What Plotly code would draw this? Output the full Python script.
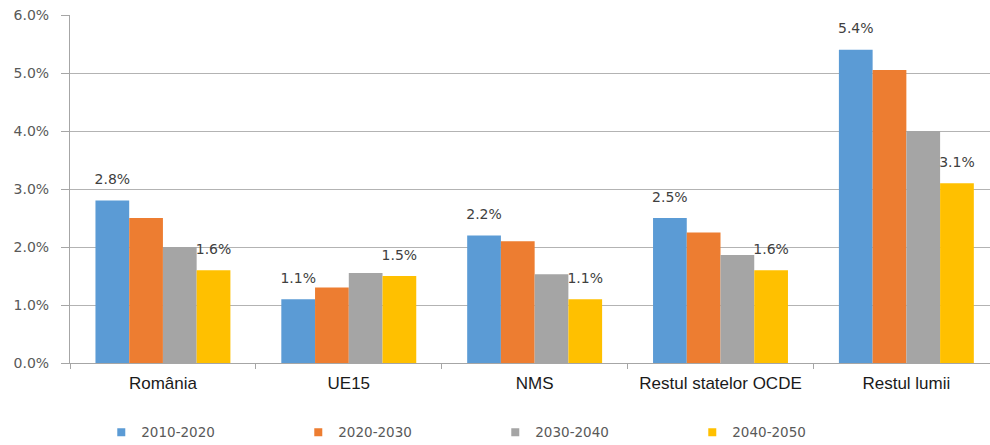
import plotly.graph_objects as go

# Average annual growth rates (%) by region and decade
regions = ["România", "UE15", "NMS", "Restul statelor OCDE", "Restul lumii"]
periods = ["2010-2020", "2020-2030", "2030-2040", "2040-2050"]
g_2010_2020 = [2.8, 1.1, 2.2, 2.5, 5.4]
g_2020_2030 = [2.5, 1.3, 2.1, 2.25, 5.05]
g_2030_2040 = [2.0, 1.55, 1.53, 1.86, 4.0]
g_2040_2050 = [1.6, 1.5, 1.1, 1.6, 3.1]
colors = ["#5B9BD5", "#ED7D31", "#A5A5A5", "#FFC000"]

series = [g_2010_2020, g_2020_2030, g_2030_2040, g_2040_2050]
# Only the first and the last decade carry value labels
labelled = [True, False, False, True]

GAP = 0.274

fig = go.Figure()
for name, vals, col in zip(periods, series, colors):
    fig.add_trace(go.Bar(
        x=regions, y=vals, name=name, marker=dict(color=col, line=dict(width=0)),
        offsetgroup=name, showlegend=False,
    ))

# Value labels: invisible grouped points placed on top of each bar
for name, vals, lab in zip(periods, series, labelled):
    fig.add_trace(go.Scatter(
        x=regions, y=vals, mode="markers+text" if lab else "markers",
        text=[f"{v:.1f}%" for v in vals] if lab else None,
        textposition="top center",
        textfont=dict(family="DejaVu Sans", size=14, color="#404040"),
        marker=dict(size=19, opacity=0),
        offsetgroup=name, showlegend=False, hoverinfo="skip", cliponaxis=False,
    ))

# small square legend keys
for name, col in zip(periods, colors):
    fig.add_trace(go.Scatter(
        x=[None], y=[None], mode="markers", name=name,
        marker=dict(symbol="square", size=8, color=col),
    ))

fig.update_layout(
    width=990, height=445,
    margin=dict(l=70, r=0, t=15, b=82, autoexpand=False),
    paper_bgcolor="white", plot_bgcolor="white",
    barmode="group", bargap=GAP, bargroupgap=0,
    scattermode="group", scattergap=GAP,
    showlegend=True,
    legend=dict(
        orientation="h", x=0.034, xanchor="left", y=-0.155, yanchor="top",
        entrywidth=152, entrywidthmode="pixels",
        font=dict(family="DejaVu Sans", size=13.5, color="#595959"),
        itemsizing="trace",
    ),
    xaxis=dict(
        type="category", range=[-0.5, 4.45],
        showline=True, linecolor="#a6a6a6", linewidth=1,
        ticks="outside", tickson="boundaries", ticklen=5, tickcolor="#a6a6a6",
        ticklabelstandoff=5,
        showgrid=False,
        tickfont=dict(family="Liberation Sans", size=17, color="#1a1a1a"),
    ),
    yaxis=dict(
        range=[0, 6], dtick=1, tickformat=".1f", ticksuffix="%",
        showline=True, linecolor="#a6a6a6", linewidth=1,
        ticks="outside", ticklen=8, tickcolor="#a6a6a6",
        ticklabelstandoff=9,
        showgrid=True, gridcolor="#b3b3b3", gridwidth=1,
        zeroline=False,
        tickfont=dict(family="DejaVu Sans", size=14, color="#595959"),
    ),
)

fig.write_html("out.html")
